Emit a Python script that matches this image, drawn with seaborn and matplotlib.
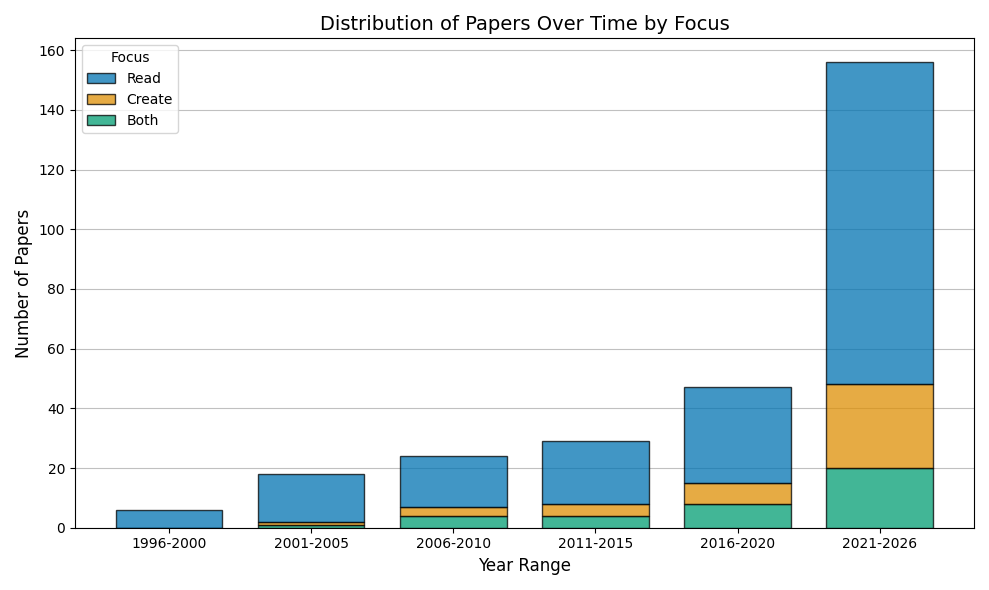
import matplotlib
matplotlib.use("Agg")
import matplotlib.pyplot as plt
import seaborn as sns
import numpy as np

year_ranges = ["1996-2000", "2001-2005", "2006-2010", "2011-2015", "2016-2020", "2021-2026"]
both = [0, 1, 4, 4, 8, 20]
create = [0, 1, 3, 4, 7, 28]
read = [6, 16, 17, 21, 32, 108]

colors = sns.color_palette("colorblind")
fig, ax = plt.subplots(figsize=(9.89, 5.9), dpi=100)
x = np.arange(len(year_ranges))
b = np.array(both)
c = np.array(create)
r = np.array(read)
ax.bar(x, b, width=0.75, color=colors[2], alpha=0.75, edgecolor="black", label="Both", zorder=3)
ax.bar(x, c, width=0.75, bottom=b, color=colors[1], alpha=0.75, edgecolor="black", label="Create", zorder=3)
ax.bar(x, r, width=0.75, bottom=b + c, color=colors[0], alpha=0.75, edgecolor="black", label="Read", zorder=3)
for bars in ax.containers:
    for p in bars:
        p.set_edgecolor((0, 0, 0, 1))

ax.set_xticks(x)
ax.set_xticklabels(year_ranges)
ax.set_ylim(0, 164)
ax.set_title("Distribution of Papers Over Time by Focus", fontsize=14)
ax.set_xlabel("Year Range", fontsize=12)
ax.set_ylabel("Number of Papers", fontsize=12)
ax.grid(axis="y", color="#c0c0c0", linewidth=0.8, zorder=0)
handles, labels = ax.get_legend_handles_labels()
ax.legend(handles[::-1], labels[::-1], title="Focus", loc="upper left")
fig.tight_layout()
fig.savefig("out.png", dpi=100)
